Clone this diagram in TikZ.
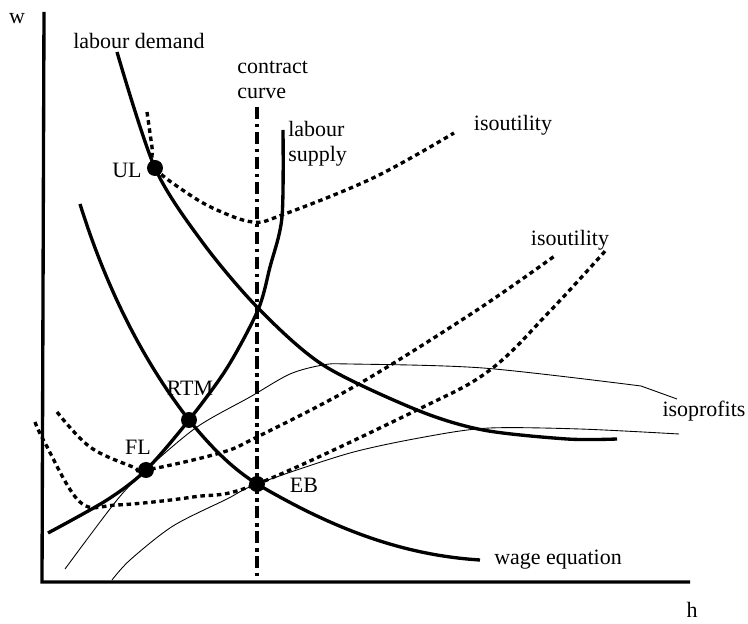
\documentclass[tikz,border=0pt]{standalone}
\usepackage{fontspec}
\setmainfont{Liberation Serif}
\tikzset{
  kaxis/.style={line width=1.9pt},
  kcurve/.style={line width=1.9pt},
  kutil/.style={line width=1.9pt, dash pattern=on 2.6pt off 2.1pt},
  kprofit/.style={line width=0.5pt},
  kcontract/.style={line width=1.9pt, dash pattern=on 7pt off 2.6pt on 2pt off 2.6pt},
  kdot/.style={circle, fill=black, inner sep=0pt, minimum size=0.32cm},
  ktext/.style={font=\fontsize{12.5}{14}\selectfont, inner sep=0pt},
}
\begin{document}
\begin{tikzpicture}[x=0.02cm, y=-0.02cm]
    \useasboundingbox (0,0) rectangle (748,624);
    % axes
    \draw[kaxis] (44,12) -- (42,582) -- (690,582);
    \node[ktext] (wlab) at (17,19) {w};
    \node[ktext] (hlab) at (692,610) {h};
    % isoprofits
    \draw[kprofit] plot[smooth] coordinates {(65,569) (117,500) (147,469) (197,427) (250,397) (290,374) (323,365) (350,364) (483,368) (641,386)} -- (677,399);
    \draw[kprofit] plot[smooth] coordinates {(112,580) (130,560) (173,526) (227,499) (257,484) (350,453) (430,436) (490,428) (580,429) (679,434)};
    % isoutility
    \draw[kutil] plot[smooth, tension=0.6] coordinates {(147,112) (152,147) (155,168) (187,193) (217,210) (253,222) (282,215) (373,178) (454,133)};
    \draw[kutil] plot[smooth, tension=0.6] coordinates {(57,412) (90,447) (133,467) (146,470) (220,453) (257,437) (357,385) (474,312) (556,255)};
    \draw[kutil] plot[smooth, tension=0.6] coordinates {(35,422) (45,443) (80,502) (117,505) (193,497) (257,484) (417,410) (490,370) (551,310) (607,249)};
    % contract curve
    \draw[kcontract] (257,107) -- (257,582);
    % labour demand, labour supply, wage equation
    \draw[kcurve] plot[smooth] coordinates {(117,52) (155,168) (203,243) (258,308) (323,365) (417,410) (483,430) (567,439) (617,439)};
    \draw[kcurve] plot[smooth] coordinates {(283,130) (282,217) (270,267) (258,310) (227,368) (189,420) (146,470) (107,500) (48,533)};
    \draw[kcurve] (80,204) .. controls (110,300) and (150,370) .. (189,420)
        .. controls (215,452) and (235,470) .. (257,484)
        .. controls (330,527) and (400,555) .. (480,560);
    % points
    \node[kdot] (ul) at (155,168) {};
    \node[kdot] (rtm) at (189,420) {};
    \node[kdot] (fl) at (146,470) {};
    \node[kdot] (eb) at (257,484) {};
    % labels
    \node[ktext, anchor=west] (demand) at (73,41) {labour demand};
    \node[ktext, anchor=west, align=left] (contract) at (237,80) {contract\\curve};
    \node[ktext, anchor=west, align=left] (supply) at (288,144) {labour\\supply};
    \node[ktext] (util1) at (513,125) {isoutility};
    \node[ktext] (util2) at (570,240) {isoutility};
    \node[ktext] (profits) at (704,411) {isoprofits};
    \node[ktext] (wage) at (558,560) {wage equation};
    \node[ktext] (ullab) at (127,170) {UL};
    \node[ktext] (rtmlab) at (190,388) {RTM};
    \node[ktext] (fllab) at (138,447) {FL};
    \node[ktext] (eblab) at (304,485) {EB};
\end{tikzpicture}
\end{document}
